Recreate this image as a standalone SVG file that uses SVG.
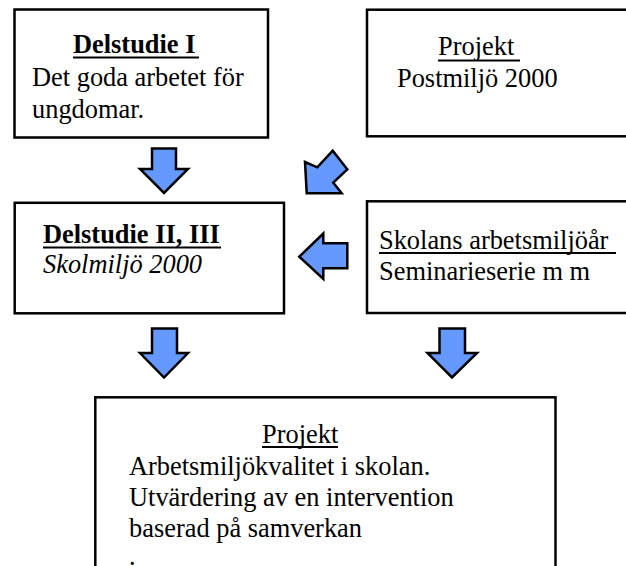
<svg xmlns="http://www.w3.org/2000/svg" width="626" height="566" viewBox="0 0 626 566">
<defs>
<style>
.box{fill:#fff;stroke:#000;stroke-width:2.5}
.t{font-family:'Liberation Serif','Times New Roman',Tinos,'DejaVu Serif','Noto Serif',serif;font-size:26.4px;fill:#000}
.b{font-weight:bold}
.i{font-style:italic}
.u{stroke:#000;stroke-width:2}
.arr{fill:#6699ff;stroke:#000;stroke-width:2.5;stroke-linejoin:miter}
</style>
</defs>
<rect width="626" height="566" fill="#fff"/>
<g id="delstudie1">
<rect class="box" x="14.5" y="9.5" width="253.5" height="128"/>
<text class="t b" x="73" y="53">Delstudie I</text>
<line class="u" x1="73" y1="57.5" x2="199" y2="57.5"/>
<text class="t" x="32" y="86">Det goda arbetet för</text>
<text class="t" x="32" y="118">ungdomar.</text>
</g>
<g id="postmiljo">
<rect class="box" x="367" y="9.7" width="270" height="126.6"/>
<text class="t" x="438" y="55">Projekt</text>
<line class="u" x1="438" y1="60.5" x2="520" y2="60.5"/>
<text class="t" x="397" y="87">Postmiljö 2000</text>
</g>
<g id="delstudie23">
<rect class="box" x="14.7" y="202.8" width="269.3" height="110.5"/>
<text class="t b" x="43" y="243">Delstudie II, III</text>
<line class="u" x1="43" y1="247.5" x2="221" y2="247.5"/>
<text class="t i" x="43" y="273">Skolmiljö 2000</text>
</g>
<g id="skolans">
<rect class="box" x="367" y="201.3" width="270" height="111.7"/>
<text class="t" x="379" y="249">Skolans arbetsmiljöår</text>
<line class="u" x1="379" y1="253" x2="616" y2="253"/>
<text class="t" x="379" y="280">Seminarieserie m m</text>
</g>
<g id="arbetsmiljokvalitet">
<rect class="box" x="95.3" y="397.3" width="460.2" height="190"/>
<text class="t" x="262" y="443">Projekt</text>
<line class="u" x1="262" y1="447" x2="338" y2="447"/>
<text class="t" x="129" y="475">Arbetsmiljökvalitet i skolan.</text>
<text class="t" x="129" y="506">Utvärdering av en intervention</text>
<text class="t" x="129" y="537">baserad på samverkan</text>
<text class="t" x="129" y="565">.</text>
</g>
<g id="connectors">
<path class="arr" d="M152,148.5 H176 V169 H188 L164,193 L140,169 H152 Z"/>
<path class="arr" d="M305,162 L317.3,167.3 L332.7,150.7 L347.3,169.3 L333.3,182.7 L341.7,193.3 L306.7,193.3 Z"/>
<path class="arr" d="M299.3,256.7 L323.3,233.5 V243.3 H347.3 V268.3 H323.3 V279 Z"/>
<path class="arr" d="M152,328.5 H177 V353 H188 L164,377.5 L140,353 H152 Z"/>
<path class="arr" d="M439.5,328.5 H465 V353 H477 L452,377.5 L427.5,353 H439.5 Z"/>
</g>
</svg>
